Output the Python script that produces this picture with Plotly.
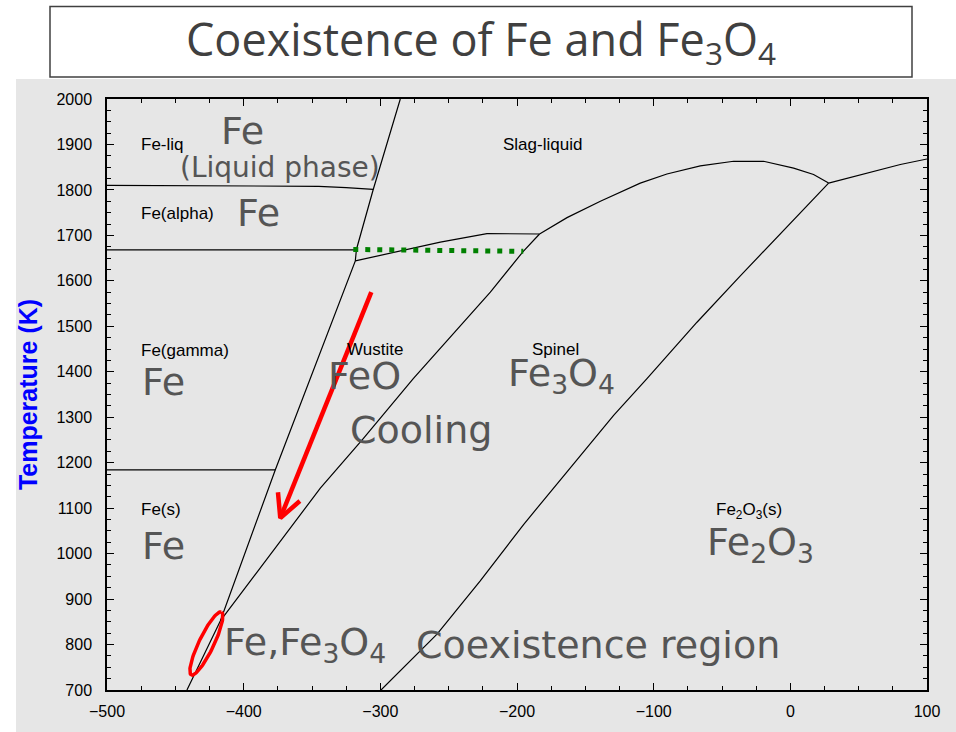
import numpy as np
import plotly.graph_objects as go

# ---------------- data ----------------
x_range = [-500, 100]
y_range = [700, 2000]

# Fe | FeO (and Fe | Fe3O4 below the triple point)
fe_feo_x = [-441.5, -417.1, -376.9, -323.4, -318.3, -317.5, -305.2, -285.4]
fe_feo_y = [700, 852, 1184, 1604, 1644, 1669, 1801, 2000]

# FeO | Fe3O4
feo_fe3o4_x = [-417.1, -380.5, -343.9, -312.5, -275.9, -219.5, -195.4, -183.5]
feo_fe3o4_y = [852, 997, 1144, 1253, 1385, 1575, 1665, 1703]

# Wustite liquidus
feo_liq_x = [-318.3, -285.4, -256.1, -222.0, -190.3, -183.5]
feo_liq_y = [1644, 1666, 1685, 1704, 1704, 1703]

# Spinel liquidus
spinel_liq_x = [-183.5, -163.4, -139.0, -109.8, -90.3, -65.9, -41.5, -19.6, 2.4, 17.0, 28.0]
spinel_liq_y = [1703, 1739, 1775, 1815, 1835, 1853, 1863, 1863, 1848, 1834, 1815]

# Hematite liquidus
hem_liq_x = [28.0, 56.1, 80.5, 100]
hem_liq_y = [1815, 1837, 1856, 1868]

# Fe3O4 | Fe2O3
fe3o4_fe2o3_x = [-299.5, -295.1, -258.5, -226.9, -195.2, -163.4, -129.3, -104.9, -68.3, -36.6, -11.0, 4.9, 28.0]
fe3o4_fe2o3_y = [700, 713, 823, 940, 1064, 1180, 1304, 1385, 1509, 1611, 1691, 1742, 1815]

# Fe allotrope boundaries
fe_liq_alpha_x = [-500, -345, -325, -305.2]
fe_liq_alpha_y = [1810, 1808, 1805, 1801]
fe_alpha_gamma_x = [-500, -318.0]
fe_alpha_gamma_y = [1668, 1668]
fe_gamma_s_x = [-500, -376.9]
fe_gamma_s_y = [1184, 1184]

# green dotted tie line
green_x = [-319.8, -195.4]
green_y = [1669, 1665]

# cooling arrow (start -> tip) and coexistence ellipse centre
arrow_start = (-306.6, 1575.2)
arrow_tip = (-373.2, 1078.2)
ellipse_center = (-427.3, 802.3)

# small phase labels: (text, x, y)
small_labels = [
    ("Fe-liq", -476.4, 1899),
    ("Fe(alpha)", -476.4, 1748),
    ("Fe(gamma)", -476.4, 1446),
    ("Fe(s)", -476.4, 1098),
    ("Slag-liquid", -211.5, 1899),
    ("Wustite", -325.6, 1448),
    ("Spinel", -190.3, 1448),
    ("Fe<sub>2</sub>O<sub>3</sub>(s)", -55.6, 1094),
]
# big grey labels: (text, x, y, size)
big_labels = [
    ("Fe", -417.8, 1930, 38),
    ("(Liquid phase)", -447.8, 1849, 28),
    ("Fe", -406.1, 1750, 38),
    ("Fe", -475.6, 1378, 38),
    ("FeO", -339.5, 1391, 38),
    ("Fe<sub>3</sub>O<sub>4</sub>", -207.8, 1391, 38),
    ("Cooling", -323.4, 1271, 38),
    ("Fe", -475.6, 1017, 38),
    ("Fe<sub>2</sub>O<sub>3</sub>", -62.3, 1021, 38),
    ("Fe,Fe<sub>3</sub>O<sub>4</sub>", -415.7, 799, 38),
    ("Coexistence region", -275.1, 799, 38),
]

title_text = "Coexistence of Fe and Fe<sub>3</sub>O<sub>4</sub>"

# ---------------- layout geometry ----------------
W, H = 956, 732
ML, MR, MT, MB = 107, 29, 99, 39
PW, PH = W - ML - MR, H - MT - MB
sx = PW / (x_range[1] - x_range[0])   # px per x unit
sy = PH / (y_range[1] - y_range[0])   # px per y unit

def px_to_paper_x(px):
    return (px - ML) / PW

def px_to_paper_y(py):
    return (H - MB - py) / PH

fig = go.Figure()

line_style = dict(color="black", width=1.2)
for xs, ys in [
    (fe_feo_x, fe_feo_y),
    (feo_fe3o4_x, feo_fe3o4_y),
    (feo_liq_x, feo_liq_y),
    (spinel_liq_x, spinel_liq_y),
    (hem_liq_x, hem_liq_y),
    (fe3o4_fe2o3_x, fe3o4_fe2o3_y),
    (fe_liq_alpha_x, fe_liq_alpha_y),
    (fe_alpha_gamma_x, fe_alpha_gamma_y),
    (fe_gamma_s_x, fe_gamma_s_y),
]:
    fig.add_trace(go.Scatter(x=xs, y=ys, mode="lines", line=line_style,
                             hoverinfo="skip", showlegend=False))

fig.add_trace(go.Scatter(x=green_x, y=green_y, mode="lines",
                         line=dict(color="#008000", width=5, dash="5px,7px"),
                         hoverinfo="skip", showlegend=False))

# red arrow: shaft + chevron head (computed in pixel space)
vx = (arrow_start[0] - arrow_tip[0]) * sx
vy = (arrow_start[1] - arrow_tip[1]) * sy
L = np.hypot(vx, vy)
ux, uy = vx / L, vy / L
head_len, head_ang = 26, np.deg2rad(27)
arms = []
for s in (1, -1):
    c, sn = np.cos(s * head_ang), np.sin(s * head_ang)
    rx, ry = ux * c - uy * sn, ux * sn + uy * c
    arms.append((arrow_tip[0] + rx * head_len / sx, arrow_tip[1] + ry * head_len / sy))
fig.add_trace(go.Scatter(x=[arrow_start[0], arrow_tip[0]], y=[arrow_start[1], arrow_tip[1]],
                         mode="lines", line=dict(color="#ff0000", width=4.5),
                         hoverinfo="skip", showlegend=False))
fig.add_trace(go.Scatter(x=[arms[0][0], arrow_tip[0], arms[1][0]],
                         y=[arms[0][1], arrow_tip[1], arms[1][1]],
                         mode="lines", line=dict(color="#ff0000", width=4.5),
                         hoverinfo="skip", showlegend=False))

# red ellipse around the coexistence point
t = np.linspace(0, 2 * np.pi, 120)
a_px, b_px, th = 35, 7.5, np.deg2rad(64.5)
ex = ellipse_center[0] + (a_px * np.cos(t) * np.cos(th) - b_px * np.sin(t) * np.sin(th)) / sx
ey = ellipse_center[1] + (a_px * np.cos(t) * np.sin(th) + b_px * np.sin(t) * np.cos(th)) / sy
fig.add_trace(go.Scatter(x=ex, y=ey, mode="lines", line=dict(color="#ff0000", width=3.5),
                         hoverinfo="skip", showlegend=False))

annotations = []
for txt, x, y in small_labels:
    annotations.append(dict(x=x, y=y, xref="x", yref="y", text=txt, showarrow=False,
                            xanchor="left", yanchor="middle",
                            font=dict(family="Liberation Sans, Arial", size=17, color="black")))
for txt, x, y, size in big_labels:
    annotations.append(dict(x=x, y=y, xref="x", yref="y", text=txt, showarrow=False,
                            xanchor="left", yanchor="middle",
                            font=dict(family="DejaVu Sans", size=size, color="#555555")))
annotations.append(dict(x=px_to_paper_x(481), y=px_to_paper_y(41), xref="paper", yref="paper",
                        text=title_text, showarrow=False, xanchor="center", yanchor="middle",
                        font=dict(family="Open Sans", size=45, color="#404040")))

shapes = [
    dict(type="rect", xref="paper", yref="paper", layer="below",
         x0=px_to_paper_x(16), x1=px_to_paper_x(970), y0=px_to_paper_y(745), y1=px_to_paper_y(79),
         fillcolor="#e6e6e6", line=dict(width=0)),
    dict(type="rect", xref="paper", yref="paper",
         x0=px_to_paper_x(50), x1=px_to_paper_x(912), y0=px_to_paper_y(77), y1=px_to_paper_y(6),
         fillcolor="white", line=dict(color="#404040", width=1.5)),
]

axis_common = dict(showgrid=False, zeroline=False, showline=True, linecolor="black", linewidth=1.5,
                   mirror="ticks", ticks="inside", ticklen=7, tickwidth=1.2, tickcolor="black",
                   tickfont=dict(family="Liberation Sans, Arial", size=16, color="black"))

fig.update_layout(
    width=W, height=H,
    margin=dict(l=ML, r=MR, t=MT, b=MB, pad=0),
    paper_bgcolor="white", plot_bgcolor="#e6e6e6",
    showlegend=False,
    xaxis=dict(range=x_range, dtick=100, tick0=-500,
               minor=dict(dtick=25, ticks="inside", ticklen=4, tickcolor="black"),
               ticklabelstandoff=6,
               **axis_common),
    yaxis=dict(range=y_range, dtick=100, tick0=700,
               minor=dict(dtick=25, ticks="inside", ticklen=4, tickcolor="black"),
               ticklabelstandoff=10,
               title=dict(text="<b>Temperature (K)</b>", standoff=12,
                          font=dict(family="Liberation Sans, Arial", size=25, color="#0000ff")),
               **axis_common),
    annotations=annotations,
    shapes=shapes,
)

fig.write_html("out.html", config={"displayModeBar": False},
               post_script="document.body.style.margin='0';document.body.style.overflow='hidden';")
